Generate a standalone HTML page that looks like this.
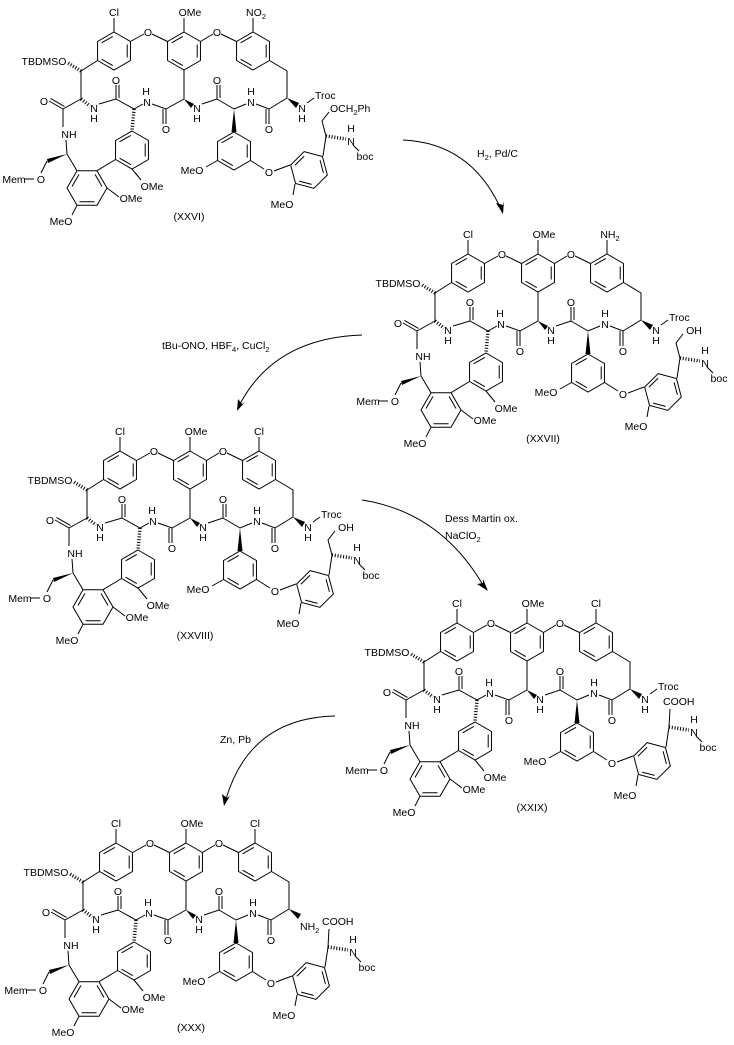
<!DOCTYPE html>
<html><head><meta charset="utf-8"><style>
html,body{margin:0;padding:0;background:#fff;}
svg{display:block;}
text{font-family:"Liberation Sans",Arial,sans-serif;font-size:10.5px;fill:#000;text-anchor:middle;}
.s{text-anchor:start;}
</style></head><body>
<svg width="734" height="1045" viewBox="0 0 734 1045" xmlns="http://www.w3.org/2000/svg">
<defs>
<g id="hx" fill="none" stroke="#000" stroke-width="1">
<polygon points="0,-19 16.45,-9.5 16.45,9.5 0,19 -16.45,9.5 -16.45,-9.5"/>
<path d="M13.2,-6.5V6.5 M-1.2,14.6 L-12.4,8.2 M-12.4,-8.2 L-1.2,-14.6"/>
</g>
<g id="hf" fill="none" stroke="#000" stroke-width="1">
<polygon points="-10,-17.3 10,-17.3 20,0 10,17.3 -10,17.3 -20,0"/>
<path d="M8,-13.6 L15,-1.5 M7.5,13.8 L-7.5,13.8 M-15,-1.5 L-8,-13.6"/>
</g>
<g id="core">
<use href="#hx" x="120" y="470"/><use href="#hx" x="190" y="470"/><use href="#hx" x="259" y="470"/>
<use href="#hx" x="138" y="569"/><use href="#hx" x="240" y="570"/><use href="#hf" x="93" y="607"/>
<use href="#hx" transform="translate(315,589) rotate(-15)"/>
<path fill="none" stroke="#000" stroke-width="1" d="M103.5,479.5 L87,490 L87,518 L69,528 L69,546
M69,528 L55,520 M70.5,525.4 L56.5,517.4
M105,523 L122,518 L140,528 L149,523
M122,518 L122,504 M125,517 L125,504
M158,523 L172,528 L190,518 L190,489
M172,528 L172,543 M169,528 L169,543
M208,523 L223,518 L240,528 L252,523
M223,518 L223,504 M226,517 L226,504
M262,523 L275,528 L293,517 L293,490 L275.5,479.5
M275,528 L275,543 M272,528 L272,543
M120,451 L120,437
M136.5,460.5 L150,453 M158,453 L173.5,460.5
M190,451 L190,437
M206.5,460.5 L219,453 M227,453 L242.5,460.5
M259,451 L259,437
M121.5,578.5 L103,589.7
M72,559 L73,573 L83,589.7
M53,580 L47,592
M30,598 L40,598
M83,624.3 L78,634
M113,607 L125,616
M138,588 L147,599
M223.5,579.5 L212,586
M256.5,579.5 L270,588 M280,590 L296,584
M301,603 L299,614
M329,575 L332,555
M359,564 L365,570"/>
<path fill="none" stroke="#000" stroke-width="3.5" stroke-dasharray="1,1.8" d="M87,490 L74,482 M87,518 L96,525 M140,528 L138,550 M332,555 L352,558"/>
<polygon points="190,518 200,523 197,527"/>
<polygon points="240,528 242.5,551 237.5,551"/>
<polygon points="73,573 53,578 54,582"/>
</g>
<g id="trocw"><polygon points="293,517 305,522 302,527"/><path d="M313,522 L320,517" stroke="#000" fill="none"/></g>
</defs>

<!-- arrows -->
<g fill="none" stroke="#000" stroke-width="1">
<path d="M403,140 Q470,143 500,207"/>
<path d="M362,335 Q275,338 240,404"/>
<path d="M362,500 Q440,512 483,585"/>
<path d="M335,716 Q250,718 226,799"/>
</g>
<polygon points="503,214 496,203 503,205 504,201"/>
<polygon points="237,411 238,399 242,404 245,402"/>
<polygon points="488,591 477,584 483,583 483,579"/>
<polygon points="224,806 222,794 227,798 230,796"/>
<text class="s" x="477" y="157">H<tspan font-size="7.5" dy="3">2</tspan><tspan dy="-3">, Pd/C</tspan></text>
<text class="s" x="162" y="349">tBu-ONO, HBF<tspan font-size="7.5" dy="3">4</tspan><tspan dy="-3">, CuCl</tspan><tspan font-size="7.5" dy="3">2</tspan></text>
<text class="s" x="445" y="522">Dess Martin ox.</text>
<text class="s" x="445" y="539">NaClO<tspan font-size="7.5" dy="3">2</tspan></text>
<text class="s" x="220" y="743">Zn, Pb</text>

<!-- Molecule XXVI -->
<g transform="translate(-6,-419)">
<use href="#core"/><use href="#trocw"/>
<path d="M332,555 L328,540 L335,531" fill="none" stroke="#000"/>
<text x="50" y="484">TBDMSO</text><text x="120" y="435">Cl</text><text x="196" y="435">OMe</text>
<text x="262" y="435">NO<tspan font-size="7.5" dy="3">2</tspan></text>
<text x="154" y="455">O</text><text x="223" y="455">O</text>
<text x="50" y="524">O</text><text x="122" y="503">O</text><text x="172" y="552">O</text><text x="223" y="503">O</text><text x="275" y="552">O</text>
<text x="75" y="557">NH</text><text x="100" y="531">N</text><text x="100" y="541">H</text>
<text x="152" y="514">H</text><text x="153" y="525">N</text>
<text x="203" y="531">N</text><text x="203" y="541">H</text>
<text x="257" y="514">H</text><text x="257" y="525">N</text>
<text x="308" y="531">N</text><text x="308" y="541">H</text><text class="s" x="321" y="518">Troc</text>
<text x="158" y="609">OMe</text><text x="137" y="621">OMe</text>
<text x="20" y="602">Mem</text><text x="47" y="602">O</text>
<text x="67" y="644">MeO</text><text x="198" y="593">MeO</text><text x="275" y="595">O</text><text x="288" y="627">MeO</text>
<text class="s" x="336" y="531">OCH<tspan font-size="7.5" dy="3">2</tspan><tspan dy="-3">Ph</tspan></text>
<text x="357" y="564">N</text><text x="357" y="551">H</text><text x="371" y="579">boc</text>
<text x="195" y="639">(XXVI)</text>
</g>

<!-- Molecule XXVII -->
<g transform="translate(348,-197)">
<use href="#core"/><use href="#trocw"/>
<path d="M332,555 L328,540 L335,531" fill="none" stroke="#000"/>
<text x="50" y="484">TBDMSO</text><text x="120" y="435">Cl</text><text x="196" y="435">OMe</text>
<text x="262" y="435">NH<tspan font-size="7.5" dy="3">2</tspan></text>
<text x="154" y="455">O</text><text x="223" y="455">O</text>
<text x="50" y="524">O</text><text x="122" y="503">O</text><text x="172" y="552">O</text><text x="223" y="503">O</text><text x="275" y="552">O</text>
<text x="75" y="557">NH</text><text x="100" y="531">N</text><text x="100" y="541">H</text>
<text x="152" y="514">H</text><text x="153" y="525">N</text>
<text x="203" y="531">N</text><text x="203" y="541">H</text>
<text x="257" y="514">H</text><text x="257" y="525">N</text>
<text x="308" y="531">N</text><text x="308" y="541">H</text><text class="s" x="321" y="518">Troc</text>
<text x="158" y="609">OMe</text><text x="137" y="621">OMe</text>
<text x="20" y="602">Mem</text><text x="47" y="602">O</text>
<text x="67" y="644">MeO</text><text x="198" y="593">MeO</text><text x="275" y="595">O</text><text x="288" y="627">MeO</text>
<text x="346" y="531">OH</text>
<text x="357" y="564">N</text><text x="357" y="551">H</text><text x="371" y="579">boc</text>
<text x="195" y="639">(XXVII)</text>
</g>

<!-- Molecule XXVIII -->
<g>
<use href="#core"/><use href="#trocw"/>
<path d="M332,555 L328,540 L335,531" fill="none" stroke="#000"/>
<text x="50" y="484">TBDMSO</text><text x="120" y="435">Cl</text><text x="196" y="435">OMe</text>
<text x="259" y="435">Cl</text>
<text x="154" y="455">O</text><text x="223" y="455">O</text>
<text x="50" y="524">O</text><text x="122" y="503">O</text><text x="172" y="552">O</text><text x="223" y="503">O</text><text x="275" y="552">O</text>
<text x="75" y="557">NH</text><text x="100" y="531">N</text><text x="100" y="541">H</text>
<text x="152" y="514">H</text><text x="153" y="525">N</text>
<text x="203" y="531">N</text><text x="203" y="541">H</text>
<text x="257" y="514">H</text><text x="257" y="525">N</text>
<text x="308" y="531">N</text><text x="308" y="541">H</text><text class="s" x="321" y="518">Troc</text>
<text x="158" y="609">OMe</text><text x="137" y="621">OMe</text>
<text x="20" y="602">Mem</text><text x="47" y="602">O</text>
<text x="67" y="644">MeO</text><text x="198" y="593">MeO</text><text x="275" y="595">O</text><text x="288" y="627">MeO</text>
<text x="346" y="531">OH</text>
<text x="357" y="564">N</text><text x="357" y="551">H</text><text x="371" y="579">boc</text>
<text x="195" y="639">(XXVIII)</text>
</g>

<!-- Molecule XXIX -->
<g transform="translate(337,172)">
<use href="#core"/><use href="#trocw"/>
<path d="M332,555 L333,537" fill="none" stroke="#000"/>
<text x="50" y="484">TBDMSO</text><text x="120" y="435">Cl</text><text x="196" y="435">OMe</text>
<text x="259" y="435">Cl</text>
<text x="154" y="455">O</text><text x="223" y="455">O</text>
<text x="50" y="524">O</text><text x="122" y="503">O</text><text x="172" y="552">O</text><text x="223" y="503">O</text><text x="275" y="552">O</text>
<text x="75" y="557">NH</text><text x="100" y="531">N</text><text x="100" y="541">H</text>
<text x="152" y="514">H</text><text x="153" y="525">N</text>
<text x="203" y="531">N</text><text x="203" y="541">H</text>
<text x="257" y="514">H</text><text x="257" y="525">N</text>
<text x="308" y="531">N</text><text x="308" y="541">H</text><text class="s" x="321" y="518">Troc</text>
<text x="158" y="609">OMe</text><text x="137" y="621">OMe</text>
<text x="20" y="602">Mem</text><text x="47" y="602">O</text>
<text x="67" y="644">MeO</text><text x="198" y="593">MeO</text><text x="275" y="595">O</text><text x="288" y="627">MeO</text>
<text class="s" x="326" y="533">COOH</text>
<text x="357" y="564">N</text><text x="357" y="551">H</text><text x="371" y="579">boc</text>
<text x="195" y="639">(XXIX)</text>
</g>

<!-- Molecule XXX -->
<g transform="translate(-4,392)">
<use href="#core"/>
<polygon points="293,517 305,522 302,527"/>
<path d="M332,555 L333,537" fill="none" stroke="#000"/>
<text x="50" y="484">TBDMSO</text><text x="120" y="435">Cl</text><text x="196" y="435">OMe</text>
<text x="259" y="435">Cl</text>
<text x="154" y="455">O</text><text x="223" y="455">O</text>
<text x="50" y="524">O</text><text x="122" y="503">O</text><text x="172" y="552">O</text><text x="223" y="503">O</text><text x="275" y="552">O</text>
<text x="75" y="557">NH</text><text x="100" y="531">N</text><text x="100" y="541">H</text>
<text x="152" y="514">H</text><text x="153" y="525">N</text>
<text x="203" y="531">N</text><text x="203" y="541">H</text>
<text x="257" y="514">H</text><text x="257" y="525">N</text>
<text class="s" x="304" y="538">NH<tspan font-size="7.5" dy="3">2</tspan></text>
<text x="158" y="609">OMe</text><text x="137" y="621">OMe</text>
<text x="20" y="602">Mem</text><text x="47" y="602">O</text>
<text x="67" y="644">MeO</text><text x="198" y="593">MeO</text><text x="275" y="595">O</text><text x="288" y="627">MeO</text>
<text class="s" x="326" y="533">COOH</text>
<text x="357" y="564">N</text><text x="357" y="551">H</text><text x="371" y="579">boc</text>
<text x="195" y="639">(XXX)</text>
</g>
</svg>
</body></html>
